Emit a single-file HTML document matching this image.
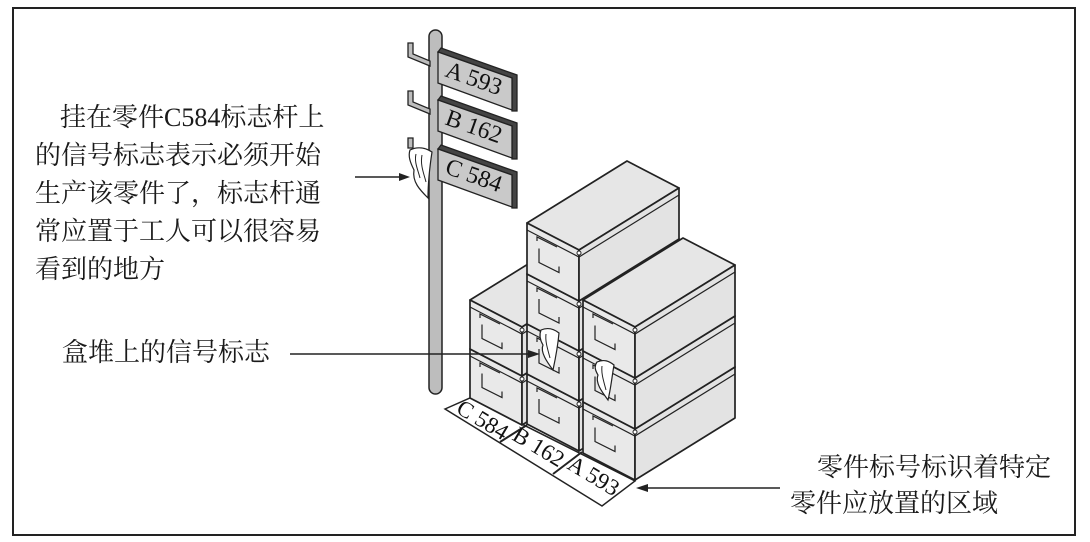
<!DOCTYPE html>
<html><head><meta charset="utf-8"><style>
html,body{margin:0;padding:0;background:#fff;}
svg{display:block;}
.cj{font-family:"Liberation Serif","Noto Serif CJK SC",serif;fill:#1a1a1a;}
.lt{font-family:"Liberation Serif","Times New Roman",serif;fill:#111;}
</style></head><body>
<svg id="s" width="1090" height="542" viewBox="0 0 1090 542" xmlns="http://www.w3.org/2000/svg">
<rect x="13" y="8" width="1062" height="527" fill="#fff" stroke="#222" stroke-width="2"/>
<g class="cj" font-size="26">
<text x="60" y="126">挂在零件C584标志杆上</text>
<text x="35" y="164">的信号标志表示必须开始</text>
<text x="35" y="202">生产该零件了，标志杆通</text>
<text x="35" y="240">常应置于工人可以很容易</text>
<text x="35" y="278">看到的地方</text>
</g>
<g class="cj" font-size="26">
<text x="62" y="361">盒堆上的信号标志</text>
<text x="817" y="476">零件标号标识着特定</text>
<text x="790" y="512">零件应放置的区域</text>
</g>
<!-- ground -->
<polygon points="445,409 470,398 635,481 602,506" fill="#fff" stroke="#222" stroke-width="1.5"/>
<line x1="500" y1="442" x2="527" y2="425" stroke="#222" stroke-width="2"/>
<line x1="553" y1="474" x2="582" y2="452" stroke="#222" stroke-width="2"/>
<g class="lt" font-size="23">
<text transform="translate(455,412) rotate(31)">C 584</text>
<text transform="translate(511,439) rotate(31)">B 162</text>
<text transform="translate(566,468) rotate(31)">A 593</text>
</g>
<g id="boxes"></g>
<!-- pole -->
<rect x="429" y="30" width="13" height="364" rx="6.5" fill="#bdbdbd" stroke="#222" stroke-width="1.5"/>
<!-- hooks -->
<g stroke="#222" stroke-width="1.3" fill="#bdbdbd">
<polygon points="408,43 413,43 413,54 430,61 430,66 408,57"/>
<polygon points="408,91 413,91 413,102 430,109 430,114 408,105"/>
<polygon points="408,138 413,138 413,148 408,148"/>
</g>
<!-- signs -->
<g stroke="#222" stroke-width="1.3">
<polygon points="441,48 517,75 517,111 512,111 512,78 438,52" fill="#444"/>
<polygon points="438,52 512,78 512,110 438,83" fill="#c9c9c9"/>
<polygon points="441,96 517,123 517,159 512,159 512,126 438,100" fill="#444"/>
<polygon points="438,100 512,126 512,158 438,131" fill="#c9c9c9"/>
<polygon points="441,145 517,172 517,208 512,208 512,175 438,149" fill="#444"/>
<polygon points="438,149 512,175 512,207 438,180" fill="#c9c9c9"/>
</g>
<g class="lt" font-size="24">
<text transform="translate(444,76) rotate(19.5)">A 593</text>
<text transform="translate(444,124) rotate(19.5)">B 162</text>
<text transform="translate(444,173) rotate(19.5)">C 584</text>
</g>
<!-- flags -->
<g fill="#fff" stroke="#222" stroke-width="1.2">
<path d="M410,150 C418,146 426,148 432,152 C430,165 428,180 428,198 C420,190 412,182 414,170 C410,162 408,156 410,150 Z"/>
<path d="M541,330 C548,327 554,329 559,333 C558,344 556,356 553,370 C547,362 540,352 543,345 C540,340 539,335 541,330 Z"/>
<path d="M597,362 C604,359 609,361 614,365 C612,376 611,388 608,400 C602,392 595,383 598,375 C595,370 594,366 597,362 Z"/>
</g>
<g stroke="#222" stroke-width="1" fill="none">
<path d="M416,154 C414,162 418,170 420,178"/><path d="M422,155 C420,165 424,174 426,182"/>
<path d="M546,334 C545,342 548,350 550,358"/><path d="M602,366 C601,374 604,382 606,390"/>
</g>
<!-- arrows -->
<g stroke="#222" stroke-width="1.5">
<line x1="355" y1="177" x2="402" y2="177"/>
<line x1="290" y1="354" x2="530" y2="354"/>
<line x1="780" y1="488" x2="646" y2="488"/>
</g>
<g fill="#222">
<polygon points="410,177 399,173 399,181"/>
<polygon points="540,354 528,350 528,358"/>
<polygon points="636,488 648,484 648,492"/>
</g>
</svg>
<script>
(function(){
var g=document.getElementById('boxes');var ns='http://www.w3.org/2000/svg';
function poly(pts,fill,sw){var p=document.createElementNS(ns,'polygon');p.setAttribute('points',pts.map(function(a){return a[0]+','+a[1]}).join(' '));p.setAttribute('fill',fill);p.setAttribute('stroke','#222');p.setAttribute('stroke-width',sw||1.7);p.setAttribute('stroke-linejoin','round');g.appendChild(p);}
function line(pts,sw){var p=document.createElementNS(ns,'polyline');p.setAttribute('points',pts.map(function(a){return a[0]+','+a[1]}).join(' '));p.setAttribute('fill','none');p.setAttribute('stroke','#222');p.setAttribute('stroke-width',sw||1.2);g.appendChild(p);}
var W=[52,27],D=[100,-62];
function box(x,y,h){
 poly([[x,y],[x+W[0],y+W[1]],[x+W[0]+D[0],y+W[1]+D[1]],[x+D[0],y+D[1]]],'#e6e6e6');
 poly([[x,y],[x+W[0],y+W[1]],[x+W[0],y+W[1]+h],[x,y+h]],'#e9e9e9');
 poly([[x+W[0],y+W[1]],[x+W[0]+D[0],y+W[1]+D[1]],[x+W[0]+D[0],y+W[1]+D[1]+h],[x+W[0],y+W[1]+h]],'#e3e3e3');
 var t=7;
 line([[x,y+t],[x+W[0],y+W[1]+t],[x+W[0]+D[0],y+W[1]+D[1]+t]]);
 line([[x+10,y+18],[x+10,y+14],[x+30,y+24]]);
 line([[x+12,y+h*0.5],[x+12,y+h*0.5+14],[x+32,y+h*0.5+24],[x+32,y+h*0.5+18]]);
 var c=document.createElementNS(ns,'circle');c.setAttribute('cx',x+W[0]);c.setAttribute('cy',y+W[1]+3);c.setAttribute('r',2);c.setAttribute('fill','#fff');c.setAttribute('stroke','#222');g.appendChild(c);
}
box(470,349,49);box(470,300,49);
box(527,374,50);box(527,324,50);box(527,274,50);box(527,223,51);
box(583,402,51);box(583,351,51);box(583,300,51);
})();
</script>
</body></html>
